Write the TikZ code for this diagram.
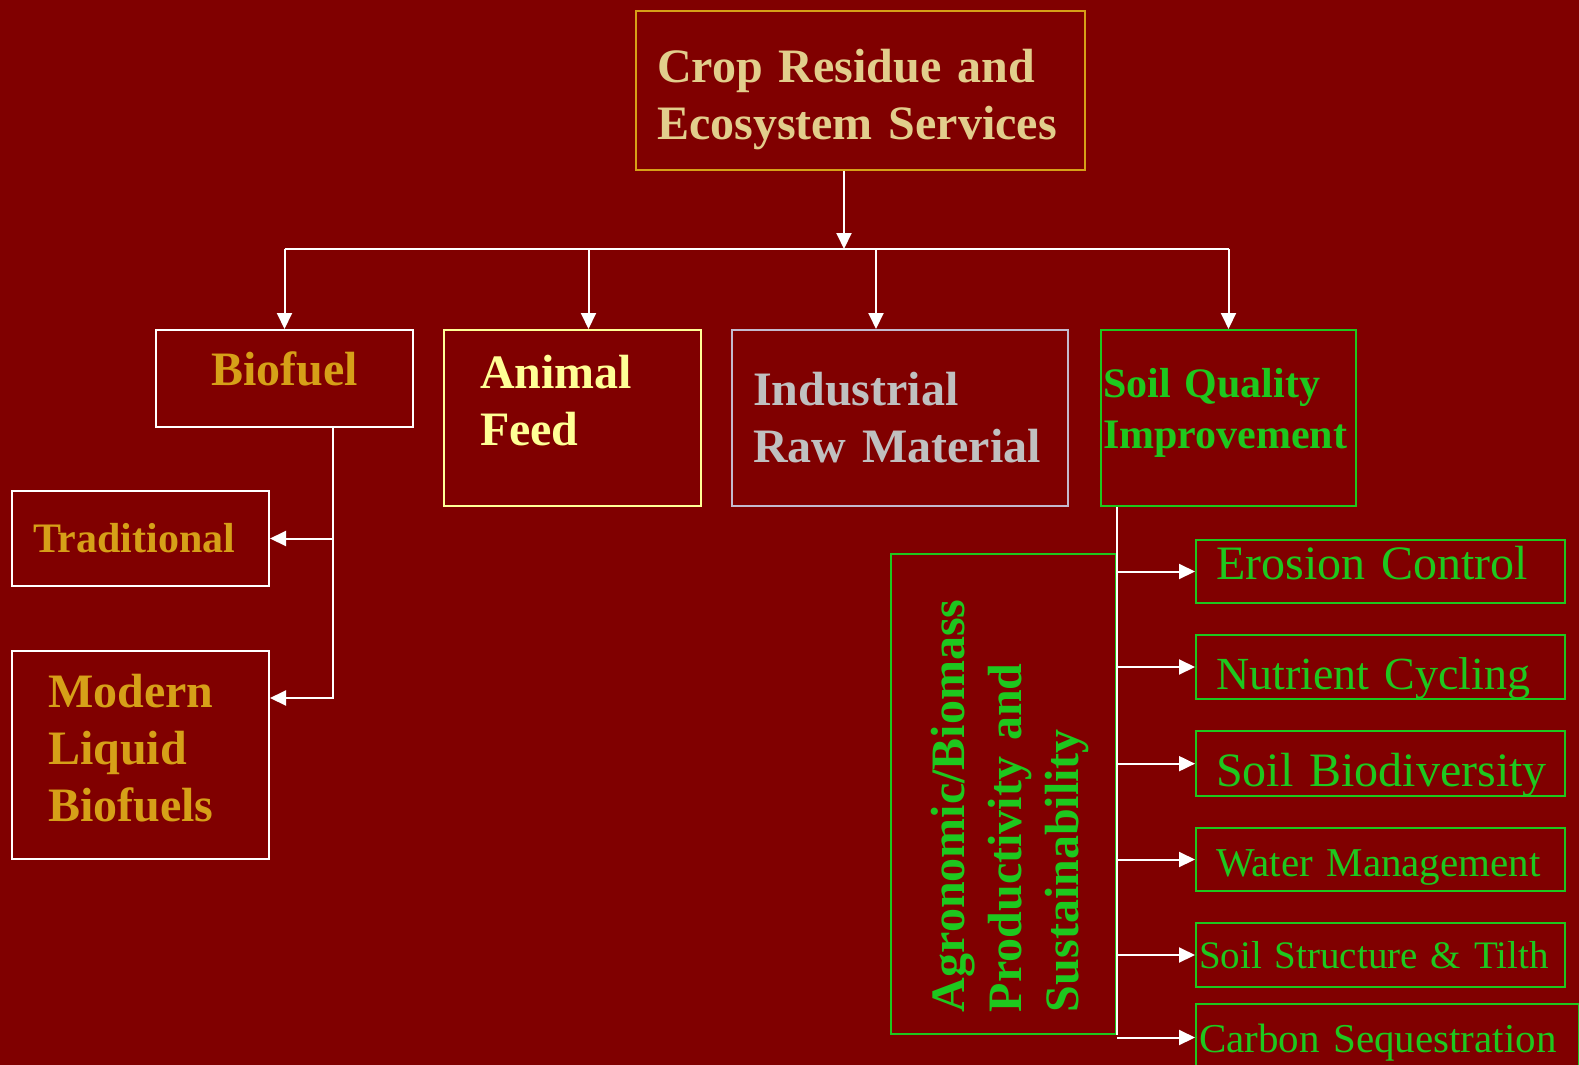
\documentclass[tikz,border=0pt]{standalone}
\usepackage{fontspec}
\setmainfont{Liberation Serif}
\usepackage{tikz}
\usetikzlibrary{shapes,arrows.meta}
\definecolor{bgred}{RGB}{128,0,0}
\definecolor{gold}{RGB}{214,160,24}
\definecolor{khaki}{RGB}{226,206,140}
\definecolor{paleyellow}{RGB}{255,255,150}
\definecolor{silver}{RGB}{192,192,192}
\definecolor{lavgray}{RGB}{196,186,206}
\definecolor{leaf}{RGB}{30,200,30}
\tikzstyle{block} = [rectangle, draw, line width=2pt, anchor=north west,
align=left, inner ysep=0pt]
\tikzstyle{leafbox} = [block, draw=leaf, text=leaf, minimum width=369pt,
text width=329pt, inner xsep=20pt]
\tikzstyle{line} = [draw=white, line width=2pt, -{Triangle[length=16pt,width=15pt]}]
\tikzstyle{wire} = [draw=white, line width=2pt]
\newcommand{\bigbold}{\fontsize{48}{57}\selectfont\bfseries}
% invisible struts to move text inside a box
\newcommand{\pushdown}[1]{\rule{0pt}{#1}}
\newcommand{\pushup}[1]{\rule[-#1]{0pt}{#1}}

\begin{document}
\begin{tikzpicture}[x=1pt, y=-1pt]
\useasboundingbox (0,0) rectangle (1579,1065);
\fill[bgred] (0,0) rectangle (1579,1065);

% Place nodes
\node [block, draw=gold, text=khaki, minimum width=449pt, minimum height=159pt,
  text width=407pt, inner xsep=21pt, font=\bigbold] (top) at (635,10)
  {\pushdown{51pt}Crop Residue and\\Ecosystem Services};
\node [block, draw=white, text=gold, minimum width=257pt, minimum height=97pt,
  text width=237pt, inner xsep=10pt, align=center, font=\bigbold] (bio) at (155,329)
  {Biofuel\pushup{20pt}};
\node [block, draw=paleyellow, text=paleyellow, minimum width=257pt, minimum height=176pt,
  text width=185pt, inner xsep=36pt, font=\bigbold] (feed) at (443,329)
  {Animal\\Feed\pushup{36pt}};
\node [block, draw=lavgray, text=silver, minimum width=336pt, minimum height=176pt,
  text width=294pt, inner xsep=21pt, font=\bigbold] (raw) at (731,329)
  {Industrial\\Raw Material};
\node [block, draw=leaf, text=leaf, minimum width=255pt, minimum height=176pt,
  text width=251pt, inner xsep=2pt, font=\fontsize{42}{51}\selectfont\bfseries] (soil) at (1100,329)
  {Soil Quality\\Improvement\pushup{19pt}};
\node [block, draw=white, text=gold, minimum width=257pt, minimum height=95pt,
  text width=215pt, inner xsep=21pt, font=\fontsize{42}{50}\selectfont\bfseries] (trad) at (11,490)
  {Traditional};
\node [block, draw=white, text=gold, minimum width=257pt, minimum height=208pt,
  text width=185pt, inner xsep=36pt, font=\bigbold] (modern) at (11,650)
  {Modern\\Liquid\\Biofuels\pushup{14pt}};
\node [rectangle, draw=leaf, text=leaf, line width=2pt, rotate=90, align=left,
  minimum width=480pt, minimum height=225pt, text width=436pt, inner xsep=22pt,
  inner ysep=0pt, font=\bigbold] (agro) at (1003.5,794)
  {\pushdown{46pt}Agronomic/Biomass\\Productivity and\\Sustainability};
\node [leafbox, minimum height=63pt, font=\fontsize{48}{56}\selectfont] (erosion) at (1195,539)
  {Erosion Control\pushup{18pt}};
\node [leafbox, minimum height=64pt, font=\fontsize{46}{54}\selectfont] (nutrient) at (1195,634)
  {\pushdown{54pt}Nutrient Cycling};
\node [leafbox, minimum height=65pt, font=\fontsize{48}{56}\selectfont] (biodiv) at (1195,730)
  {\pushdown{55pt}\mbox{Soil Biodiversity}};
\node [leafbox, minimum height=63pt, font=\fontsize{41}{48}\selectfont] (water) at (1195,827)
  {\pushdown{43pt}Water Management};
\node [leafbox, minimum height=64pt, text width=363pt, inner xsep=3pt,
  font=\fontsize{39}{46}\selectfont] (structure) at (1195,922)
  {Soil Structure \& Tilth};
\node [leafbox, minimum width=383pt, minimum height=67pt, text width=377pt, inner xsep=3pt,
  font=\fontsize{41}{48}\selectfont] (carbon) at (1195,1003)
  {\pushdown{38pt}Carbon Sequestration};

% Draw edges
\coordinate (bus) at (844,249);
\coordinate (feedtop) at ([xshift=16pt]feed.north);
\coordinate (rawtop) at ([xshift=-24pt]raw.north);
\path [line] (top.south -| bus) -- (bus);
\path [wire] (bio.north |- bus) -- (soil.north |- bus);
\path [line] (bio.north |- bus) -- (bio.north);
\path [line] (feedtop |- bus) -- (feedtop);
\path [line] (rawtop |- bus) -- (rawtop);
\path [line] (soil.north |- bus) -- (soil.north);

\coordinate (biotrunk) at ([xshift=48pt]bio.south);
\coordinate (modtap) at ([yshift=-48pt]modern.north east);
\path [line] (biotrunk) |- (trad.east);
\path [line] (biotrunk) |- (modtap);

% agro is turned, so its south side is the right edge
\coordinate (soiltrunk) at (soil.south west -| agro.south);
\path [wire] (soiltrunk) -- (soiltrunk |- agro.west);
\foreach \n in {erosion,nutrient,biodiv,water,structure,carbon}
  \path [line] (soiltrunk |- \n.west) -- (\n.west);
\end{tikzpicture}
\end{document}
